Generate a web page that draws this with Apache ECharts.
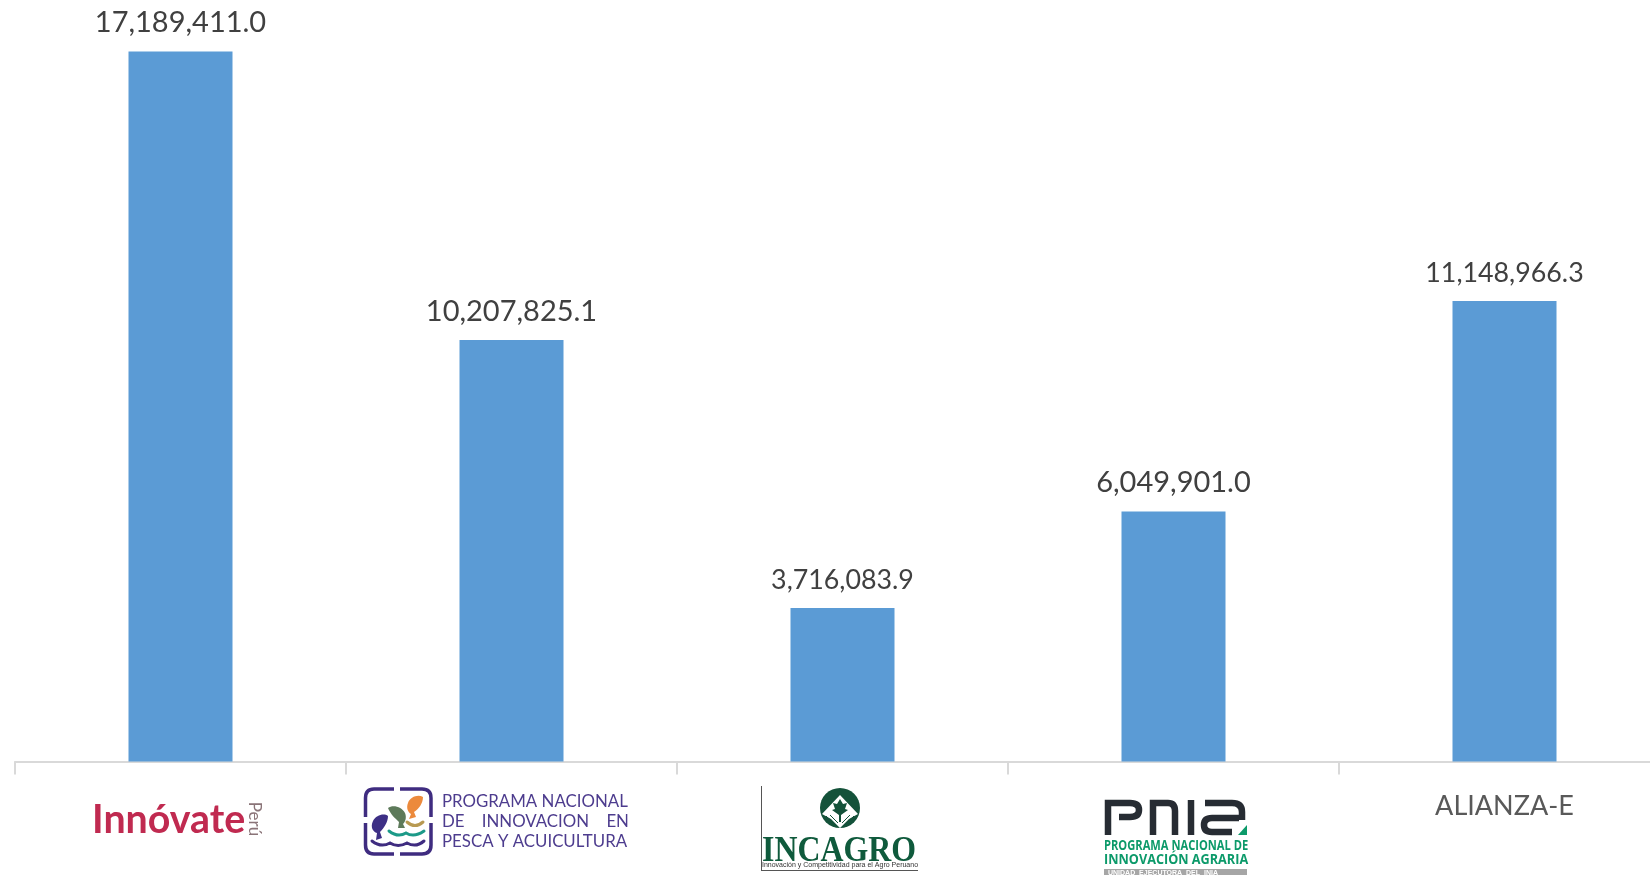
<!DOCTYPE html>
<html>
<head>
<meta charset="utf-8">
<title>Programas</title>
<script src="https://cdn.jsdelivr.net/npm/echarts@6/dist/echarts.min.js"></script>
<style>
  html, body { margin: 0; padding: 0; background: #fff; overflow: hidden; }
  #chart { width: 1650px; height: 875px; }
</style>
</head>
<body>
<div id="chart"></div>
<script>
const categories = ["Innóvate Perú", "Programa Nacional de Innovación en Pesca y Acuicultura", "INCAGRO", "PNIA", "ALIANZA-E"];
const values = [17189411.0, 10207825.1, 3716083.9, 6049901.0, 11148966.3];
// categories that are shown as a logo instead of an axis label
const logoCategories = categories.slice(0, 4);
// these two value labels are set a bit smaller than the others in the original
const smallLabelCategories = ["INCAGRO", "ALIANZA-E"];

const PURPLE = "#3f2c80";
const INK_GREEN = "#0f5a3c";
const PNIA_GREEN = "#0c9a6a";
const PNIA_DARK = "#272c33";

// the graphic component has no plain "path" type, so each logo path gets registered
let pathCount = 0;
function pathEl(d, style) {
  const name = "logoPath" + pathCount++;
  echarts.graphic.registerShape(name, echarts.graphic.extendPath(d, {}));
  return { type: name, style };
}
function stroke(d, color, lineWidth, cap) {
  return pathEl(d, { fill: "none", stroke: color, lineWidth, lineCap: cap || "round" });
}
function solid(d, color) {
  return pathEl(d, { fill: color });
}
function txt(x, y, text, font, fill, scaleX) {
  return {
    type: "text", x, y, scaleX: scaleX || 1,
    style: { text, font, fill, textAlign: "left", textVerticalAlign: "middle" },
  };
}

const innovateLogo = [
  txt(92, 820, "Innóvate", "bold 41px Lato", "#c02a50", 0.96),
  {
    type: "text", x: 254, y: 819, rotation: -Math.PI / 2,
    style: { text: "Perú", font: "17px Lato", fill: "#8a7478", textAlign: "center", textVerticalAlign: "middle" },
  },
];

const pescaLogo = [
  stroke("M365.5 807 L365.5 798 Q365.5 789 374 789 L394 789 M400 789 L422 789 Q431 789 431 798 L431 817 M431 823 L431 845 Q431 854 422 854 L400 854 M394 854 L374 854 Q365.5 854 365.5 845 L365.5 823 M365.5 817 L365.5 807", PURPLE, 3.5, "butt"),
  // fish, from left to right
  solid("M388 816 C384 813 376 815 373 821 C370 827 373 832 377 833 L376 840 L382 838 L380 832 C384 828 388 822 388 816 Z", "#3d2f85"),
  solid("M388 808 C393 804 402 807 405 813 C407 818 405 822 403 824 L405 828 L398 828 L399 822 C395 818 391 815 388 808 Z", "#5d7a5a"),
  solid("M423 797 C418 794 410 797 408 803 C406 808 408 812 411 814 L409 819 L416 817 L414 812 C419 809 423 803 423 797 Z", "#ec8a3c"),
  stroke("M407 822 Q415 829 423 822", "#b89a52", 3),
  stroke("M389 831 Q398 838 406 833 Q414 838 424 831", "#1c9a88", 3),
  stroke("M372 841 Q381 848 390 843 Q398 848 407 843 Q416 848 424 841", PURPLE, 3),
  txt(442, 802, "PROGRAMA NACIONAL", "17px Lato", "#4d3c8e", 0.99),
  txt(442, 822, "DE    INNOVACION    EN", "17px Lato", "#4d3c8e", 0.99),
  txt(442, 842, "PESCA Y ACUICULTURA", "17px Lato", "#4d3c8e", 0.99),
];

const incagroLogo = [
  { type: "rect", shape: { x: 761, y: 786, width: 1, height: 84 }, style: { fill: "#555" } },
  { type: "rect", shape: { x: 761, y: 870, width: 157, height: 1 }, style: { fill: "#555" } },
  { type: "circle", shape: { cx: 840, cy: 808, r: 20 }, style: { fill: "#14523a" } },
  solid("M840 795 L858 814 L849 819 L840 828 L831 819 L822 814 Z", "#ffffff"),
  solid("M840 799 L843 804 L847 803 L845 809 L848 810 L841 815 L841 822 L839 822 L839 815 L832 810 L835 809 L833 803 L837 804 Z", "#14523a"),
  stroke("M826 816 L836 826 M830 815 L838 823 M854 816 L844 826 M850 815 L842 823", "#14523a", 1, "butt"),
  txt(762, 852, "INCAGRO", "bold 35px 'Liberation Serif'", INK_GREEN, 0.91),
  txt(762, 865, "Innovación y Competitividad para el Agro Peruano", "7px 'Liberation Sans'", "#333"),
];

const pniaLogo = [
  stroke("M1108 835 L1108 803 L1130 803 Q1139 803 1139 810 Q1139 817 1130 817 L1119 817", PNIA_DARK, 6.5, "butt"),
  stroke("M1153 835 L1153 803 L1168 803 Q1175 803 1175 811 L1175 835", PNIA_DARK, 6.5, "butt"),
  stroke("M1191 800 L1191 835", PNIA_DARK, 6.5, "butt"),
  stroke("M1205 803 L1232 803 Q1242 803 1242 812 L1242 820 M1232 832 L1212 832 Q1204 832 1204 825 Q1204 818 1212 818 L1239 818", PNIA_DARK, 6.5, "butt"),
  solid("M1247 825 L1247 835 L1238 835 Z", PNIA_GREEN),
  txt(1104, 846, "PROGRAMA NACIONAL DE", "bold 13.5px 'Open Sans'", PNIA_GREEN, 0.825),
  txt(1104, 860, "INNOVACIÓN AGRARIA", "bold 15px 'Open Sans'", PNIA_GREEN, 0.845),
  { type: "rect", shape: { x: 1104, y: 869, width: 143, height: 6 }, style: { fill: "#a6a6a6" } },
  txt(1108, 873, "UNIDAD  EJECUTORA  DEL  INIA", "bold 7px 'Liberation Sans'", "#ffffff"),
];

const chart = echarts.init(document.getElementById("chart"));
chart.setOption({
  animation: false,
  grid: { left: 15, top: 0, width: 1655, height: 761.5, outerBoundsMode: "none" },
  xAxis: {
    type: "category",
    data: categories,
    axisLine: { lineStyle: { color: "#d9d9d9", width: 2 } },
    axisTick: { show: true, length: 13, lineStyle: { color: "#d9d9d9", width: 2 } },
    axisLabel: {
      interval: 0,
      margin: 31,
      fontFamily: "Lato",
      fontSize: 27,
      color: "#595959",
      formatter: (v) => (logoCategories.includes(v) ? "" : v),
    },
  },
  yAxis: { type: "value", min: 0, max: 18437000, show: false, splitLine: { show: false } },
  series: [
    {
      type: "bar",
      data: values.map((v, i) => ({
        value: v,
        label: { fontSize: smallLabelCategories.includes(categories[i]) ? 26.8 : 29 },
      })),
      barWidth: 104,
      itemStyle: { color: "#5b9bd5" },
      label: {
        show: true,
        position: "top",
        distance: 14,
        fontFamily: "Lato",
        color: "#404040",
        formatter: (p) => p.value.toLocaleString("en-US", { minimumFractionDigits: 1, maximumFractionDigits: 1 }),
      },
    },
  ],
  graphic: [...innovateLogo, ...pescaLogo, ...incagroLogo, ...pniaLogo],
});
</script>
</body>
</html>
